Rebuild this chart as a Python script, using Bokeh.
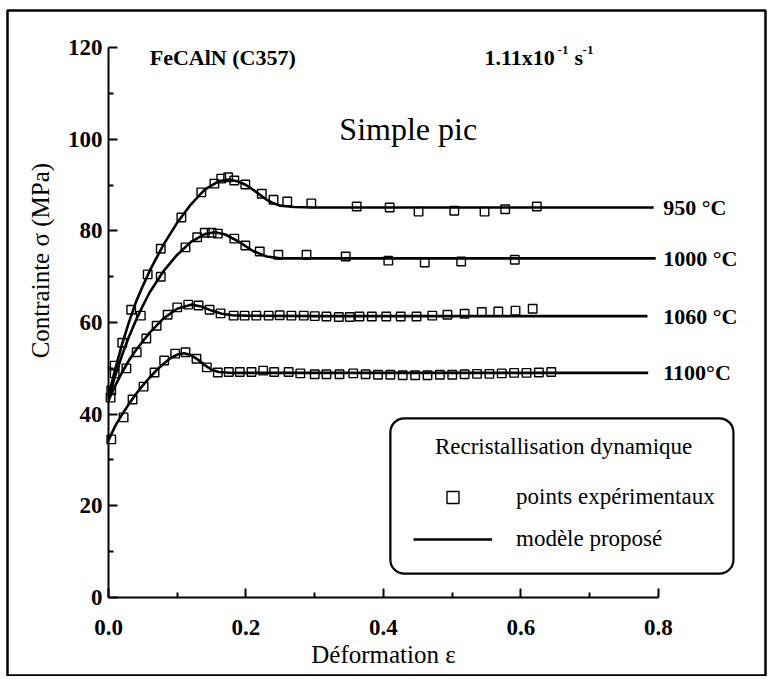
import math
from bokeh.plotting import figure
from bokeh.models import (Range1d, LinearAxis, FixedTicker, Label, BoxAnnotation,
                          Legend, LegendItem, NumeralTickFormatter)
from bokeh.embed import file_html
from bokeh.resources import INLINE

# ---------------- data ----------------
temp_labels = ["950 °C", "1000 °C", "1060 °C", "1100°C"]

# experimental points
exp950_x = [0.004, 0.009, 0.020, 0.033, 0.057, 0.076, 0.106, 0.135, 0.154, 0.164, 0.174, 0.183,
            0.199, 0.223, 0.240, 0.260, 0.295, 0.361, 0.409, 0.451, 0.503, 0.547, 0.577, 0.623]
exp950_y = [45.2, 50.6, 55.6, 62.8, 70.5, 76.1, 82.9, 88.4, 90.3, 91.4, 91.7, 91.0,
            90.1, 88.1, 86.8, 86.4, 86.0, 85.3, 85.1, 84.2, 84.4, 84.2, 84.7, 85.3]

exp1000_x = [0.003, 0.009, 0.047, 0.076, 0.112, 0.129, 0.140, 0.150, 0.159, 0.183, 0.199,
             0.220, 0.247, 0.288, 0.345, 0.407, 0.460, 0.513, 0.591]
exp1000_y = [43.6, 48.9, 61.5, 70.0, 76.4, 78.6, 79.6, 79.6, 79.4, 78.3, 76.8,
             75.5, 74.8, 74.8, 74.4, 73.5, 73.1, 73.3, 73.7]

exp1060_x = [0.026, 0.041, 0.055, 0.070, 0.086, 0.100, 0.116, 0.131, 0.147, 0.163, 0.182,
             0.198, 0.215, 0.233, 0.249, 0.266, 0.284, 0.300, 0.317, 0.335, 0.351, 0.365,
             0.383, 0.404, 0.425, 0.448, 0.471, 0.493, 0.518, 0.543, 0.567, 0.592, 0.617]
exp1060_y = [50.0, 53.5, 56.5, 59.3, 61.7, 63.3, 63.9, 63.7, 62.8, 62.0, 61.5,
             61.5, 61.5, 61.5, 61.6, 61.5, 61.5, 61.4, 61.3, 61.2, 61.2, 61.3,
             61.3, 61.3, 61.3, 61.3, 61.5, 61.7, 61.9, 62.3, 62.4, 62.6, 63.0]

exp1100_x = [0.004, 0.022, 0.035, 0.051, 0.067, 0.081, 0.097, 0.112, 0.128, 0.143, 0.159,
             0.175, 0.191, 0.208, 0.225, 0.241, 0.262, 0.279, 0.300, 0.317, 0.336, 0.356,
             0.374, 0.392, 0.410, 0.428, 0.446, 0.464, 0.482, 0.500, 0.518, 0.536, 0.554,
             0.572, 0.590, 0.608, 0.626, 0.644]
exp1100_y = [34.5, 39.3, 43.2, 46.0, 49.1, 51.7, 53.2, 53.5, 52.1, 50.2, 49.1,
             49.2, 49.2, 49.2, 49.5, 49.2, 49.2, 48.9, 48.7, 48.7, 48.7, 48.9,
             48.7, 48.6, 48.6, 48.5, 48.5, 48.5, 48.6, 48.6, 48.7, 48.8, 48.8,
             48.9, 49.0, 49.0, 49.1, 49.2]

# model curves
mod950_x = [0.0, 0.01, 0.02, 0.03, 0.04, 0.05, 0.06, 0.08, 0.10, 0.12, 0.14, 0.16, 0.175,
            0.19, 0.20, 0.21, 0.22, 0.23, 0.24, 0.25, 0.27, 0.30, 0.50, 0.793]
mod950_y = [44.0, 50.0, 55.4, 60.2, 64.5, 68.0, 71.3, 77.0, 81.8, 85.8, 89.0, 90.8, 91.2,
            90.7, 90.0, 89.0, 87.9, 86.8, 86.0, 85.5, 85.2, 85.1, 85.1, 85.1]

mod1000_x = [0.0, 0.01, 0.02, 0.03, 0.04, 0.05, 0.06, 0.08, 0.10, 0.12, 0.14, 0.155, 0.17,
             0.19, 0.21, 0.23, 0.25, 0.30, 0.50, 0.796]
mod1000_y = [43.5, 48.5, 53.0, 57.0, 60.5, 63.7, 66.6, 71.2, 74.8, 77.6, 79.3, 79.7, 79.2,
             77.6, 75.6, 74.4, 74.0, 74.0, 74.0, 74.0]

mod1060_x = [0.0, 0.01, 0.02, 0.03, 0.04, 0.06, 0.08, 0.10, 0.12, 0.135, 0.15, 0.165, 0.18,
             0.20, 0.30, 0.50, 0.784]
mod1060_y = [43.0, 46.3, 49.2, 51.8, 54.0, 57.8, 60.9, 63.0, 63.9, 63.5, 62.6, 61.9, 61.6,
             61.5, 61.4, 61.4, 61.4]

mod1100_x = [0.0, 0.01, 0.02, 0.03, 0.04, 0.05, 0.06, 0.07, 0.08, 0.09, 0.10, 0.11, 0.12,
             0.13, 0.14, 0.15, 0.16, 0.18, 0.30, 0.50, 0.785]
mod1100_y = [34.3, 37.5, 40.0, 42.3, 44.4, 46.3, 48.0, 49.6, 51.0, 52.2, 53.0, 53.3, 52.9,
             51.9, 50.7, 49.7, 49.2, 49.0, 49.0, 49.0, 49.0]

x_ticks = [0.0, 0.2, 0.4, 0.6, 0.8]
x_minor = [0.1, 0.3, 0.5, 0.7]
y_ticks = [0, 20, 40, 60, 80, 100, 120]
y_minor = [10, 30, 50, 70, 90, 110]

FONT = "Liberation Serif"
INK = "black"

# ---------------- figure ----------------
p = figure(width=770, height=676, output_backend="svg", toolbar_location=None,
           x_range=Range1d(-0.14691, 0.95564), y_range=Range1d(-17.24, 128.08),
           x_axis_type=None, y_axis_type=None,
           min_border_left=7, min_border_top=10, min_border_right=5, min_border_bottom=0)
p.outline_line_color = INK
p.outline_line_width = 2.5
p.background_fill_color = "white"
p.border_fill_color = "white"

xaxis = LinearAxis(fixed_location=0, bounds=(0, 0.8),
                   ticker=FixedTicker(ticks=x_ticks, minor_ticks=x_minor),
                   formatter=NumeralTickFormatter(format="0.0"))
yaxis = LinearAxis(fixed_location=0, bounds=(0, 120),
                   ticker=FixedTicker(ticks=y_ticks, minor_ticks=y_minor))
for ax in (xaxis, yaxis):
    ax.axis_line_width = 2
    ax.axis_line_color = INK
    ax.major_tick_in = 9
    ax.major_tick_out = 0
    ax.minor_tick_in = 5
    ax.minor_tick_out = 0
    ax.major_tick_line_width = 2
    ax.minor_tick_line_width = 2
    ax.major_tick_line_color = INK
    ax.minor_tick_line_color = INK
    ax.major_label_text_font = FONT
    ax.major_label_text_font_style = "bold"
    ax.major_label_text_font_size = "23px"
    ax.major_label_text_color = INK
xaxis.major_label_standoff = 23
yaxis.major_label_standoff = 6
xaxis.axis_label = "Déformation ε"
xaxis.axis_label_text_font = FONT
xaxis.axis_label_text_font_style = "normal"
xaxis.axis_label_text_font_size = "25px"
xaxis.axis_label_text_color = INK
xaxis.axis_label_standoff = 2
p.add_layout(xaxis, "below")
p.add_layout(yaxis, "left")

sq_kw = dict(marker="square", size=8.5, fill_color=None, line_color=INK, line_width=1.4)
ln_kw = dict(line_color=INK, line_width=2.6)

series = [(mod950_x, mod950_y, exp950_x, exp950_y),
          (mod1000_x, mod1000_y, exp1000_x, exp1000_y),
          (mod1060_x, mod1060_y, exp1060_x, exp1060_y),
          (mod1100_x, mod1100_y, exp1100_x, exp1100_y)]
line_rs, sq_rs = [], []
for mx, my, ex, ey in series:
    line_rs.append(p.line(mx, my, **ln_kw))
    sq_rs.append(p.scatter(ex, ey, **sq_kw))

# temperature labels at the end of each model curve
for lab, (mx, my, ex, ey) in zip(temp_labels, series):
    p.add_layout(Label(x=0.807, y=my[-1], text=lab, text_font=FONT, text_font_style="bold",
                       text_font_size="22px", text_baseline="middle", text_align="left",
                       text_color=INK))

# titles
TY = 117.8
p.add_layout(Label(x=0.060, y=TY, text="FeCAlN (C357)", text_font=FONT,
                   text_font_style="bold", text_font_size="22px", text_baseline="middle",
                   text_color=INK))
p.add_layout(Label(x=0.547, y=TY, text="1.11x10", text_font=FONT,
                   text_font_style="bold", text_font_size="22px", text_baseline="middle",
                   text_color=INK))
p.add_layout(Label(x=0.547, y=TY, x_offset=73, y_offset=8, text="-1", text_font=FONT,
                   text_font_style="bold", text_font_size="13px", text_baseline="middle",
                   text_color=INK))
p.add_layout(Label(x=0.547, y=TY, x_offset=90, text="s", text_font=FONT,
                   text_font_style="bold", text_font_size="22px", text_baseline="middle",
                   text_color=INK))
p.add_layout(Label(x=0.547, y=TY, x_offset=98, y_offset=8, text="-1", text_font=FONT,
                   text_font_style="bold", text_font_size="13px", text_baseline="middle",
                   text_color=INK))
p.add_layout(Label(x=0.436, y=102.3, text="Simple pic", text_font=FONT,
                   text_font_size="32px", text_baseline="alphabetic", text_align="center",
                   text_color=INK))

# y axis title
p.add_layout(Label(x=-0.099, y=73.5, text="Contrainte σ (MPa)", angle=math.pi / 2,
                   text_font=FONT, text_font_size="25px", text_align="center",
                   text_baseline="middle", text_color=INK))

# legend frame (rounded)
p.add_layout(BoxAnnotation(left=0.410, right=0.909, top=39.1, bottom=5.2, border_radius=14,
                           fill_alpha=0, line_color=INK, line_alpha=1.0, line_width=2.2))
p.add_layout(Label(x=0.662, y=33.0, text="Recristallisation dynamique", text_font=FONT,
                   text_font_size="23px", text_align="center", text_baseline="middle",
                   text_color=INK))

leg = Legend(items=[LegendItem(label="points expérimentaux", renderers=[sq_rs[0]]),
                    LegendItem(label="modèle proposé", renderers=[line_rs[0]])],
             location=(406, 122), padding=0, margin=0, spacing=12,
             glyph_width=79, glyph_height=30, label_height=30, label_standoff=24,
             border_line_alpha=0, background_fill_alpha=0)
leg.label_text_font = FONT
leg.label_text_font_size = "23px"
leg.label_text_color = INK
p.add_layout(leg, "center")

open("out.html", "w").write(file_html(p, INLINE))
